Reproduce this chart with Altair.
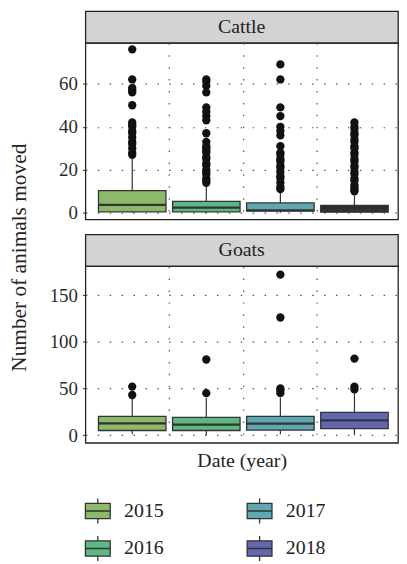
import altair as alt
import pandas as pd

FONT = "Liberation Serif"

years = ['2015', '2016', '2017', '2018']
species = ['Cattle', 'Goats']
year_colors = ['#8db96b', '#5db883', '#5fa8b1', '#6467b0']

# Box statistics (per year 2015..2018)
cattle_lo = [0, 0, 0, 0]
cattle_q1 = [0.5, 0.5, 0.8, 0.3]
cattle_med = [3.7, 2.4, 1.2, 1.4]
cattle_q3 = [10.3, 5.3, 4.6, 3.5]
cattle_hi = [25, 12.5, 9.5, 8]

goats_lo = [1, 0, 1, 0]
goats_q1 = [5, 5, 5.3, 7]
goats_med = [12.7, 11.3, 12.3, 15.9]
goats_q3 = [20.2, 19.1, 20.2, 24.4]
goats_hi = [40, 40, 40, 46]

# Outliers
cattle_out = {
    '2015': [27, 28, 30, 32, 33, 35, 37, 38, 40, 41, 42, 50, 56, 57, 58, 62, 76],
    '2016': [14, 15, 16, 18, 19, 20, 22, 23, 25, 26, 28, 29, 30, 31, 33, 37, 43,
             45, 47, 49, 56, 59, 61, 62],
    '2017': [11, 12, 14, 16, 17, 19, 21, 22, 24, 25, 27, 28, 31, 36, 38, 40, 45,
             49, 62, 69],
    '2018': [10, 11, 12, 13, 15, 16, 18, 19, 21, 22, 24, 25, 27, 28, 30, 31, 33,
             34, 36, 37, 39, 40, 42],
}
goats_out = {
    '2015': [43, 52],
    '2016': [45, 81],
    '2017': [45, 48, 50, 126, 172],
    '2018': [49, 52, 82],
}

y_domains = {'Cattle': [-3.1, 79], 'Goats': [-8.2, 181]}
y_ticks = {'Cattle': [0, 20, 40, 60], 'Goats': [0, 50, 100, 150]}

box_rows = []
for sp, lo, q1, med, q3, hi in [
    ('Cattle', cattle_lo, cattle_q1, cattle_med, cattle_q3, cattle_hi),
    ('Goats', goats_lo, goats_q1, goats_med, goats_q3, goats_hi),
]:
    for i, y in enumerate(years):
        box_rows.append(dict(species=sp, year=y, lo=lo[i], q1=q1[i],
                             median=med[i], q3=q3[i], hi=hi[i]))
box_df = pd.DataFrame(box_rows)

out_rows = []
for sp, d in [('Cattle', cattle_out), ('Goats', goats_out)]:
    for y in years:
        for v in d[y]:
            out_rows.append(dict(species=sp, year=y, value=v))
out_df = pd.DataFrame(out_rows)

GRID = dict(grid=True, gridDash=[1.5, 10.5], gridColor='#555', gridWidth=1.2)

box_path = "M-1,-0.62H1V0.62H-1Z M-1,0H1 M0,-0.62V-1 M0,0.62V1"


def x_enc(show_title):
    return alt.X(
        'year:N', sort=years,
        scale=alt.Scale(paddingInner=0, paddingOuter=0.11, align=0.6),
        axis=alt.Axis(labels=False, ticks=False, domain=False,
                      bandPosition=0,
                      gridOpacity={"condition": {"test": "datum.value == '2015'",
                                                 "value": 0}, "value": 1},
                      title='Date (year)' if show_title else None,
                      titleFont=FONT, titleFontSize=20, titleFontWeight='normal',
                      titleColor='#222', titlePadding=8, **GRID))


def y_enc(field, sp, show_title):
    if show_title:
        kw = dict(title='Number of animals moved', titleFont=FONT,
                  titleFontSize=21.5, titleFontWeight='normal', titleColor='#222',
                  titleAngle=-90, titleY=216, titleX=-55, titleAlign='center',
                  titleBaseline='bottom')
    else:
        kw = dict(title=None)
    return alt.Y(field, scale=alt.Scale(domain=y_domains[sp], nice=False, zero=False),
                 axis=alt.Axis(values=y_ticks[sp], tickSize=3, tickColor='#333',
                               domain=False, labelFont=FONT, labelFontSize=19,
                               labelColor='#2a2a2a', labelPadding=5, **GRID, **kw))


fill_enc = alt.Fill('year:N', scale=alt.Scale(domain=years, range=year_colors),
                    legend=alt.Legend(title=None, orient='none', legendX=-1, legendY=490,
                                      columns=2, columnPadding=81, rowPadding=7,
                                      symbolType=box_path, symbolSize=625,
                                      symbolStrokeColor='#333', symbolStrokeWidth=1.3,
                                      labelFont=FONT, labelFontSize=20,
                                      labelColor='#222', labelOffset=13))


def panel(sp, show_x, show_y):
    base = alt.Chart(box_df).transform_filter(alt.datum.species == sp)
    whisk = base.mark_rule(color='#333', strokeWidth=1.2).encode(
        x=x_enc(show_x), y=y_enc('lo:Q', sp, show_y), y2='hi:Q')
    if sp == 'Cattle':
        f = alt.condition(alt.datum.year == '2018', alt.value('#2b2b2b'), fill_enc)
    else:
        f = fill_enc
    box = base.mark_bar(size=68, stroke='#333', strokeWidth=1.3).encode(
        x=x_enc(show_x), y=y_enc('q1:Q', sp, show_y), y2='q3:Q', fill=f)
    med = base.mark_tick(size=68, thickness=2.2, color='#333', opacity=1).encode(
        x=x_enc(show_x), y=y_enc('median:Q', sp, show_y))
    pts = alt.Chart(out_df).transform_filter(alt.datum.species == sp).mark_circle(
        size=70, color='#111', opacity=1).encode(
        x=x_enc(show_x), y=y_enc('value:Q', sp, show_y))
    return alt.layer(whisk, box, med, pts).properties(width=315, height=178)


def strip(sp):
    return alt.Chart(pd.DataFrame({'label': [sp]})).mark_text(
        font=FONT, fontSize=20, color='#222').encode(text='label:N').properties(
        width=315, height=32,
        view=alt.ViewBackground(fill='#d3d3d3', stroke='#222', strokeWidth=1.3))


spacer = alt.Chart(pd.DataFrame({'label': ['']})).mark_text().encode(
    text='label:N').properties(
    width=315, height=15,
    view=alt.ViewBackground(fill='transparent', stroke='transparent'))

chart = alt.vconcat(
    strip('Cattle'), panel('Cattle', False, True), spacer,
    strip('Goats'), panel('Goats', True, False),
    spacing=0, bounds='flush',
).properties(padding={"left": 0, "top": 0, "right": 0, "bottom": 0}
).configure(font=FONT).configure_view(stroke='#222', strokeWidth=1.3)

chart.save("out.html", embed_options={"renderer": "svg", "actions": False})
